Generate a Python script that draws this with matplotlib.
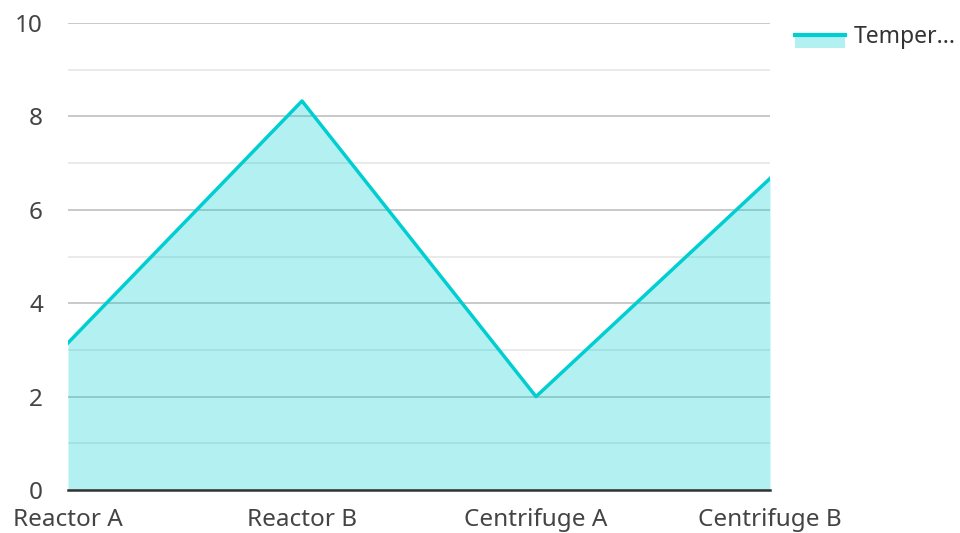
import matplotlib.pyplot as plt
from matplotlib.patches import Rectangle
from matplotlib.lines import Line2D

# data
categories = ["Reactor A", "Reactor B", "Centrifuge A", "Centrifuge B"]
temperature = [3.15, 8.33, 2.0, 6.67]
series_name = "Temper..."

line_color = "#00CED1"

plt.rcParams['font.family'] = ['Noto Sans', 'DejaVu Sans']

fig = plt.figure(figsize=(9.6, 5.33), dpi=100)
ax = fig.add_axes([68 / 960, 1 - 490 / 533, (770 - 68) / 960, (490 - 23) / 533])

x = list(range(len(categories)))
ax.fill_between(x, temperature, 0, color=line_color, alpha=0.3, linewidth=0, zorder=2)
ax.plot(x, temperature, color=line_color, linewidth=2.5, zorder=3)

ax.set_xlim(0, len(categories) - 1)
ax.set_ylim(0, 10)
ax.set_yticks([0, 2, 4, 6, 8, 10])
ax.set_yticks([1, 3, 5, 7, 9], minor=True)
ax.set_xticks(x)
ax.set_xticklabels(categories)

ax.grid(True, which='major', axis='y', color='#c0c0c0', linewidth=1.2, zorder=1)
ax.grid(True, which='minor', axis='y', color='#e6e6e6', linewidth=1.2, zorder=1)
ax.set_axisbelow(True)

for side in ['top', 'right', 'left']:
    ax.spines[side].set_visible(False)
ax.spines['bottom'].set_color('#333333')
ax.spines['bottom'].set_linewidth(1.8)
ax.spines['bottom'].set_zorder(4)

ax.tick_params(axis='both', which='both', length=0, labelsize=17.5, labelcolor='#444444')
ax.tick_params(axis='y', pad=18)
ax.tick_params(axis='x', pad=13)

# legend drawn by hand at the right
fig.add_artist(Rectangle((795 / 960, 1 - 48 / 533), 50 / 960, 14 / 533,
                         transform=fig.transFigure, color=line_color, alpha=0.3, linewidth=0))
fig.add_artist(Line2D([795 / 960, 845 / 960], [1 - 35 / 533, 1 - 35 / 533],
                      transform=fig.transFigure, color=line_color, linewidth=3))
fig.text(854 / 960, 1 - 37 / 533, series_name, fontsize=16.5, color='#333333', va='center')

fig.savefig("out.png", dpi=100)
